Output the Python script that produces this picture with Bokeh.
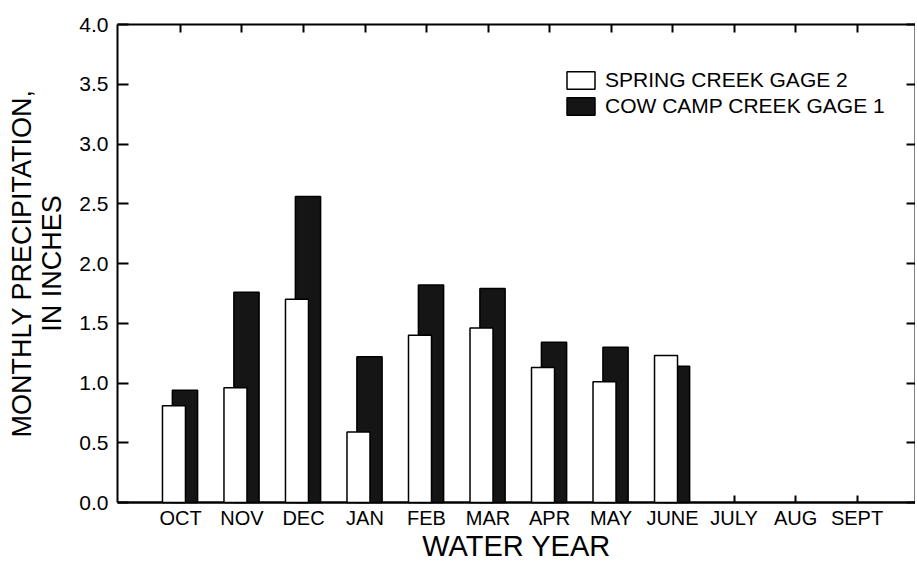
from bokeh.plotting import figure
from bokeh.models import (Range1d, FixedTicker, LinearAxis, Legend, LegendItem,
                          ColumnDataSource)
from bokeh.embed import file_html
from bokeh.resources import INLINE

# ---- data ----
months = ["OCT", "NOV", "DEC", "JAN", "FEB", "MAR", "APR", "MAY", "JUNE",
          "JULY", "AUG", "SEPT"]
spring_creek_gage2 = [0.81, 0.96, 1.70, 0.59, 1.40, 1.46, 1.13, 1.01, 1.23]
cow_camp_creek_gage1 = [0.94, 1.76, 2.56, 1.22, 1.82, 1.79, 1.34, 1.30, 1.14]
y_ticks = [0.0, 0.5, 1.0, 1.5, 2.0, 2.5, 3.0, 3.5, 4.0]

FONT = "Liberation Sans"

idx = list(range(len(months)))
n = len(spring_creek_gage2)
src_w = ColumnDataSource(dict(x=[i - 0.106 for i in idx[:n]], top=spring_creek_gage2))
src_d = ColumnDataSource(dict(x=[i + 0.073 for i in idx[:n]], top=cow_camp_creek_gage1))

p = figure(frame_width=798, frame_height=478, output_backend="svg",
           toolbar_location=None, x_range=Range1d(-1.024, 11.95),
           y_range=Range1d(0, 4.0), x_axis_location=None, y_axis_location=None,
           min_border_left=117, min_border_top=24, min_border_right=0,
           min_border_bottom=0, background_fill_color="white",
           border_fill_color="white")
p.outline_line_color = None
p.grid.visible = False

rd = p.vbar(x="x", top="top", width=0.41, bottom=0, source=src_d,
            fill_color="#151515", line_color="black", line_width=1.5)
rw = p.vbar(x="x", top="top", width=0.374, bottom=0, source=src_w,
            fill_color="white", line_color="black", line_width=1.5)
rd.level = "overlay"
rw.level = "overlay"

def style(ax, labels=True):
    ax.axis_line_width = 2
    ax.axis_line_color = "black"
    ax.major_tick_line_width = 2
    ax.major_tick_line_color = "black"
    ax.major_tick_out = 0
    ax.minor_tick_line_color = None
    if not labels:
        ax.major_label_overrides = {t: "" for t in ax.ticker.ticks}
        ax.major_label_standoff = 0

# bottom axis
bx = LinearAxis(ticker=FixedTicker(ticks=idx))
style(bx)
bx.axis_line_width = 2.5
bx.major_tick_in = 7
bx.major_label_overrides = {i: m for i, m in enumerate(months)}
bx.major_label_text_font = FONT
bx.major_label_text_font_size = "20px"
bx.major_label_text_color = "black"
bx.major_label_standoff = 4
bx.axis_label = "WATER YEAR"
bx.axis_label_text_font = FONT
bx.axis_label_text_font_size = "29px"
bx.axis_label_text_font_style = "normal"
bx.axis_label_text_color = "black"
bx.axis_label_standoff = -2
p.add_layout(bx, "below")

# top axis
tx = LinearAxis(ticker=FixedTicker(ticks=idx))
style(tx, labels=False)
tx.major_tick_in = 8
p.add_layout(tx, "above")

# left axis
ly = LinearAxis(ticker=FixedTicker(ticks=y_ticks))
style(ly)
ly.major_tick_in = 11
ly.major_label_overrides = {t: f"{t:.1f}" for t in y_ticks}
ly.major_label_text_font = FONT
ly.major_label_text_font_size = "21px"
ly.major_label_text_color = "black"
ly.major_label_standoff = 9
ly.axis_label = "MONTHLY PRECIPITATION,\nIN INCHES"
ly.axis_label_text_font = FONT
ly.axis_label_text_font_size = "27px"
ly.axis_label_text_font_style = "normal"
ly.axis_label_text_line_height = 1.0
ly.axis_label_text_color = "black"
ly.axis_label_standoff = 9
p.add_layout(ly, "left")

# right axis
ry = LinearAxis(ticker=FixedTicker(ticks=y_ticks))
style(ry, labels=False)
ry.major_tick_in = 9
p.add_layout(ry, "right")

legend = Legend(items=[LegendItem(label="SPRING CREEK GAGE 2", renderers=[rw]),
                       LegendItem(label="COW CAMP CREEK GAGE 1", renderers=[rd])],
                location=(446, 384), orientation="vertical")
legend.label_text_font = FONT
legend.label_text_font_size = "21px"
legend.label_text_color = "black"
legend.glyph_width = 35
legend.glyph_height = 22
legend.label_standoff = 7
legend.spacing = 2
legend.padding = 0
legend.margin = 0
legend.border_line_color = None
legend.background_fill_alpha = 0
p.add_layout(legend, "center")

open("out.html", "w").write(file_html(p, INLINE))
